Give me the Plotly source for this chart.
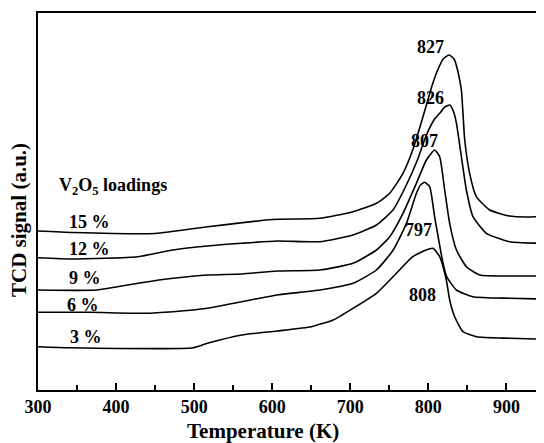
import plotly.graph_objects as go

t_15 = [300, 345, 450, 520, 600, 661, 703.5, 733.5, 750.5, 767.5, 780, 790, 797.5, 805, 812, 819, 826.5, 833, 838, 842.3, 846.6, 852.9, 861.5, 878.6, 904, 925, 948]
p_15 = [231, 232.5, 233.5, 226.5, 219.5, 218.3, 211.7, 203.3, 193.3, 173.3, 150, 125, 105, 85, 70, 59, 55, 59, 72, 90, 140, 173.3, 196.7, 210, 216, 217, 216.5]

t_12 = [300, 345, 428, 473, 517, 561, 606, 661, 703.5, 733.5, 754.7, 770, 786, 797.5, 808, 814.5, 821, 827.4, 832, 836, 842.3, 848.7, 857.2, 874.4, 904, 948]
p_12 = [257.7, 259, 256.7, 250, 246, 243.3, 241, 241.7, 235, 225, 210, 188, 160, 135, 119, 113.3, 107, 105, 111, 123.3, 156.7, 190, 216.7, 233.3, 241.7, 243.3]

t_9 = [300, 375, 430, 473, 517, 561, 606, 661, 703.5, 733.5, 750.5, 767.5, 784.7, 797.5, 808, 814.5, 820.9, 827.3, 836, 848.7, 866, 904, 948]
p_9 = [290, 290, 283, 278.3, 275, 274, 271, 270, 263.3, 250, 236.7, 213.3, 183.3, 160, 150, 156.7, 190, 223.3, 250, 266.7, 275, 276, 276]

t_6 = [300, 366, 437, 473, 517, 561, 606, 661, 703.5, 733.5, 755, 772, 784.7, 790, 795.3, 801.7, 808, 812.4, 818.8, 823.5, 836, 857, 904, 948]
p_6 = [312.3, 312.3, 313.3, 311.7, 308.3, 301.7, 295, 290, 283.3, 270, 250, 223.3, 193.3, 185, 182.3, 186.7, 216.7, 236, 263.3, 276.7, 290, 296.7, 298.3, 299]

t_3 = [300, 341, 499, 517, 561, 606, 650, 678, 703.5, 733.5, 759, 780, 797, 806, 814.5, 823, 827.3, 833.7, 844.4, 861.5, 904, 948]
p_3 = [346.7, 347.7, 347.7, 343.3, 335, 331, 326.7, 320, 308.3, 293.3, 273.3, 256.7, 250, 248.3, 256.7, 280, 300, 316.7, 331.7, 336.7, 338.3, 339.3]

series_names = ["15 %", "12 %", "9 %", "6 %", "3 %"]
series_t = [t_15, t_12, t_9, t_6, t_3]
series_p = [p_15, p_12, p_9, p_6, p_3]

# series name label positions
label_t = [366, 366, 360, 357, 361]
label_p = [221.7, 249, 278.3, 305, 337]

# peak temperature labels
peak_text = ["827", "826", "807", "797", "808"]
peak_t = [803, 803, 795, 788, 792]
peak_p = [46.7, 98, 141, 230, 295]

x_ticks = [300, 400, 500, 600, 700, 800, 900]

BASE = 390.0          # baseline row (x axis)
TOP = 13.0            # top frame row


def sig(p):
    return BASE - p


FONT = "Liberation Serif"
BODY = 8  # default page margin of the html body

fig = go.Figure()
for name, t, p in zip(series_names, series_t, series_p):
    fig.add_trace(go.Scatter(x=t, y=[sig(v) for v in p], mode="lines",
                             line=dict(color="black", width=1.6, shape="spline", smoothing=0.5),
                             name=name, showlegend=False, hoverinfo="skip"))

ann = []
for name, t, p in zip(series_names, label_t, label_p):
    ann.append(dict(x=t, y=sig(p), text="<b>" + name + "</b>", showarrow=False,
                    xanchor="center", yanchor="middle", font=dict(family=FONT, size=18, color="black")))
for txt, t, p in zip(peak_text, peak_t, peak_p):
    ann.append(dict(x=t, y=sig(p), text="<b>" + txt + "</b>", showarrow=False,
                    xanchor="center", yanchor="middle", font=dict(family=FONT, size=18, color="black")))
ann.append(dict(x=324, y=sig(186), text="<b>V<sub>2</sub>O<sub>5</sub> loadings</b>", showarrow=False,
                xanchor="left", yanchor="middle", font=dict(family=FONT, size=18, color="black")))
ann.append(dict(xref="paper", yref="paper", x=0, xshift=-19, y=0.451, text="<b>TCD signal (a.u.)</b>",
                textangle=-90, showarrow=False, xanchor="center", yanchor="middle",
                font=dict(family=FONT, size=21, color="black")))
ann.append(dict(xref="paper", yref="paper", x=0.445, y=0, yshift=-41, text="<b>Temperature (K)</b>",
                showarrow=False, xanchor="center", yanchor="middle",
                font=dict(family=FONT, size=21, color="black")))

W, H = 544 - BODY, 443 - BODY
L = 38 - BODY
T_ = int(TOP) - BODY
B = H - (int(BASE) - BODY)
plot_w = W - L
xmax = 300 + plot_w / 0.7807

fig.update_layout(
    width=W, height=H,
    margin=dict(l=L, r=0, t=T_, b=B, pad=0),
    paper_bgcolor="white", plot_bgcolor="white",
    annotations=ann,
    xaxis=dict(range=[300, xmax], showgrid=False, zeroline=False,
               showline=True, linecolor="black", linewidth=1.6, mirror=True,
               ticks="inside", ticklen=7, tickwidth=1.5, tickcolor="black",
               tickvals=x_ticks, ticktext=["<b>%d</b>" % v for v in x_ticks],
               tickfont=dict(family=FONT, size=18, color="black"),
               minor=dict(ticks="inside", ticklen=5, tickwidth=1.5, tickcolor="black", dtick=50, showgrid=False)),
    yaxis=dict(range=[0, BASE - TOP], showgrid=False, zeroline=False,
               showline=True, linecolor="black", linewidth=1.6,
               showticklabels=False, ticks=""),
)

fig.write_html("out.html")
